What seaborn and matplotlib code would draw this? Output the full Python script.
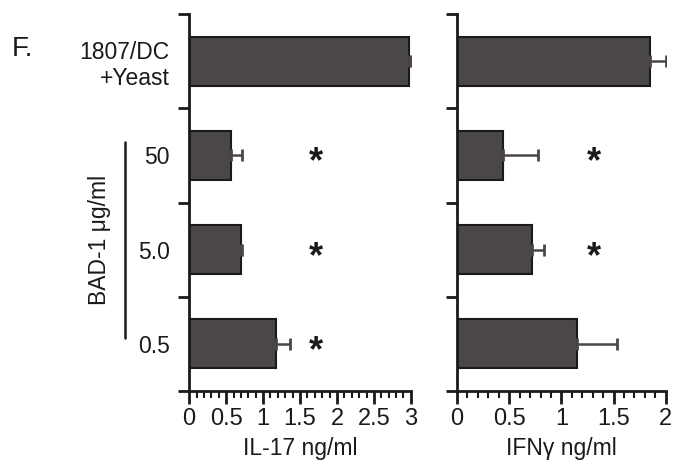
import matplotlib
matplotlib.use('Agg')
from matplotlib import pyplot as plt
from matplotlib.ticker import MultipleLocator, FixedLocator
import pandas as pd
import seaborn as sns

# values
groups = ['1807/DC\n+Yeast', '50', '5.0', '0.5']
il17 = [2.98, 0.57, 0.70, 1.18]
il17_err = [0.02, 0.15, 0.02, 0.18]
ifng = [1.85, 0.44, 0.72, 1.15]
ifng_err = [0.15, 0.34, 0.11, 0.38]
il17_star = [False, True, True, True]
ifng_star = [False, True, True, False]

sns.set_style('ticks')
plt.rcParams['font.family'] = ['Liberation Sans', 'DejaVu Sans']

bar_col = '#4b4748'
fig = plt.figure(figsize=(6.78, 4.65), dpi=100)
ax1 = fig.add_axes([0.279, 0.159, 0.327, 0.811])
ax2 = fig.add_axes([0.674, 0.159, 0.308, 0.811])


def panel(ax, vals, errs, stars, xmax, star_x, xlabel, show_labels):
    df = pd.DataFrame({'group': groups, 'val': vals})
    sns.barplot(data=df, x='val', y='group', orient='h', color=bar_col,
                saturation=1, width=0.52, edgecolor='#1a1a1a', linewidth=1.5,
                ax=ax)
    ax.errorbar(vals, range(len(groups)), xerr=[[0] * len(errs), errs],
                fmt='none', ecolor='#4b4748', elinewidth=1.8, capsize=4.5,
                capthick=2)
    for i, s in enumerate(stars):
        if s:
            ax.text(star_x, i + 0.08, '*', ha='center', va='center',
                    fontsize=26, fontweight='bold', color='#1a1a1a')
    ax.set_xlim(0, xmax)
    ax.set_ylim(3.5, -0.5)
    ax.xaxis.set_major_locator(MultipleLocator(0.5))
    ax.xaxis.set_minor_locator(MultipleLocator(0.1))
    ax.yaxis.set_minor_locator(FixedLocator([-0.5, 0.5, 1.5, 2.5, 3.5]))
    ax.tick_params(axis='x', which='major', length=9, width=2, labelsize=17,
                   pad=3, colors='#1a1a1a')
    ax.tick_params(axis='x', which='minor', length=5, width=1.5,
                   colors='#1a1a1a')
    ax.tick_params(axis='y', which='major', length=0, labelsize=16.5, pad=14,
                   colors='#1a1a1a')
    ax.tick_params(axis='y', which='minor', length=8, width=2,
                   colors='#1a1a1a')
    ax.set_xticklabels([f'{t:g}' for t in ax.get_xticks()])
    if not show_labels:
        ax.set_yticklabels([])
    ax.set_xlabel(xlabel, fontsize=16.5, labelpad=5, color='#1a1a1a')
    ax.set_ylabel('')
    sns.despine(ax=ax)
    for sp in ['left', 'bottom']:
        ax.spines[sp].set_linewidth(2)
        ax.spines[sp].set_color('#1a1a1a')


panel(ax1, il17, il17_err, il17_star, 3, 1.72, 'IL-17 ng/ml', True)
panel(ax2, ifng, ifng_err, ifng_star, 2, 1.31, 'IFN\u03b3 ng/ml', False)

fig.text(0.018, 0.895, 'F.', fontsize=20, color='#1a1a1a', va='center')
fig.text(0.147, 0.485, 'BAD-1 \u03bcg/ml', rotation=90, fontsize=16.5,
         ha='center', va='center', color='#1a1a1a')
fig.add_artist(plt.Line2D([0.184, 0.184], [1 - 142 / 465, 1 - 338 / 465],
                          color='#1a1a1a', lw=1.8))

fig.savefig('out.png', dpi=100)
